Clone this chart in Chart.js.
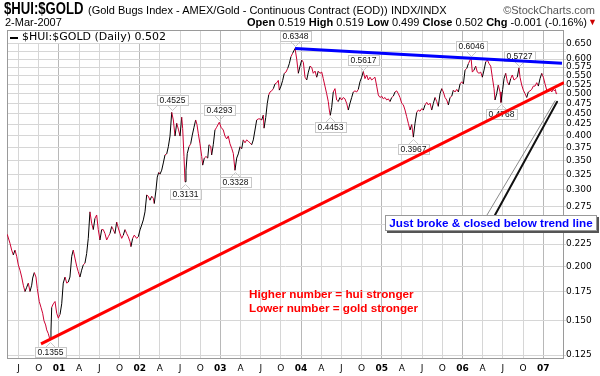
<!DOCTYPE html>
<html>
<head>
<meta charset="utf-8">
<script src="https://cdn.jsdelivr.net/npm/chart.js@4.4.1/dist/chart.umd.min.js"></script>
<style>
  body { margin: 0; background: #fff; }
  #wrap { position: relative; width: 600px; height: 376px; overflow: hidden; font-family: "Liberation Sans", Arial, sans-serif; color: #000; }
  #chart { position: absolute; left: 0; top: 0; }
  .t { position: absolute; white-space: nowrap; }
  .note { left: 249px; font: bold 11.7px "Liberation Sans", Arial, sans-serif; color: #ff0000; }
  #callout { left: 385px; top: 215px; width: 210px; height: 14px; background: #fff; border: 1px solid #999;
    box-shadow: 2px 2px 0 #555; font: bold 11.7px "Liberation Sans", Arial, sans-serif; color: #0000ff;
    line-height: 14px; text-align: center; }
  #sym { left: 4px; top: 0px; font: bold 16px "Liberation Sans", Arial, sans-serif; transform: scaleX(0.82); transform-origin: 0 0; }
</style>
</head>
<body>
<div id="wrap">
  <canvas id="chart" width="600" height="376"></canvas>
  <div class="t" id="sym">$HUI:$GOLD</div>
  <div class="t" style="left:88px;top:4px;font-size:11px;">(Gold Bugs Index - AMEX/Gold - Continuous Contract (EOD))</div>
  <div class="t" style="left:391px;top:4px;font-size:11px;">INDX/INDX</div>
  <div class="t" style="right:5px;top:4px;font-size:11px;color:#555;">&copy;StockCharts.com</div>
  <div class="t" style="left:5px;top:16px;font-size:11px;">2-Mar-2007</div>
  <div class="t" style="right:13px;top:16px;font-size:11px;"><b>Open</b> 0.519 <b>High</b> 0.519 <b>Low</b> 0.499 <b>Close</b> 0.502 <b>Chg</b> -0.001 (-0.16%)</div>
  <div class="t" style="right:3px;top:17px;font-size:9px;color:#cc0000;">&#9660;</div>
  <div class="t note" style="top:287px;">Higher number = hui stronger</div>
  <div class="t note" style="top:301px;">Lower number = gold stronger</div>
  <div class="t" id="callout">Just broke &amp; closed below trend line</div>
</div>
<script>
// $HUI:$GOLD daily ratio, dates as decimal years
const dates = [
  2000.359, 2000.393, 2000.414, 2000.434, 2000.455, 2000.476, 2000.496, 2000.517, 2000.538, 2000.558,
  2000.579, 2000.600, 2000.620, 2000.641, 2000.662, 2000.674, 2000.694, 2000.715, 2000.731, 2000.756,
  2000.777, 2000.798, 2000.814, 2000.835, 2000.848, 2000.868, 2000.889, 2000.901, 2000.910, 2000.930,
  2000.951, 2000.972, 2000.992, 2001.013, 2001.034, 2001.053, 2001.075, 2001.096, 2001.115, 2001.136,
  2001.158, 2001.177, 2001.198, 2001.220, 2001.239, 2001.260, 2001.281, 2001.301, 2001.322, 2001.343,
  2001.363, 2001.384, 2001.405, 2001.425, 2001.446, 2001.467, 2001.487, 2001.508, 2001.529, 2001.549,
  2001.570, 2001.591, 2001.611, 2001.632, 2001.653, 2001.673, 2001.694, 2001.715, 2001.735, 2001.756,
  2001.777, 2001.797, 2001.818, 2001.839, 2001.859, 2001.880, 2001.892, 2001.913, 2001.933, 2001.963,
  2001.983, 2002.004, 2002.025, 2002.045, 2002.066, 2002.087, 2002.107, 2002.128, 2002.149, 2002.169,
  2002.181, 2002.202, 2002.218, 2002.236, 2002.252, 2002.273, 2002.293,
  2002.314, 2002.335, 2002.355, 2002.376, 2002.397, 2002.417, 2002.438, 2002.459, 2002.479, 2002.500,
  2002.521, 2002.533, 2002.549, 2002.562, 2002.574, 2002.590, 2002.611, 2002.632, 2002.652, 2002.673,
  2002.694, 2002.710, 2002.726, 2002.747, 2002.769, 2002.781, 2002.801, 2002.822, 2002.843, 2002.859,
  2002.880, 2002.892, 2002.912, 2002.933, 2002.954, 2002.974, 2002.987, 2003.008, 2003.036, 2003.057,
  2003.078, 2003.098, 2003.119, 2003.140, 2003.160, 2003.181, 2003.202, 2003.222, 2003.243, 2003.264,
  2003.284, 2003.305, 2003.326, 2003.346, 2003.367, 2003.388, 2003.408, 2003.429, 2003.450, 2003.470,
  2003.491, 2003.512, 2003.532, 2003.541, 2003.562, 2003.581, 2003.599, 2003.615, 2003.636, 2003.656,
  2003.677, 2003.698, 2003.718, 2003.730, 2003.751, 2003.772, 2003.792, 2003.813, 2003.834, 2003.854,
  2003.875, 2003.896, 2003.925,
  2003.946, 2003.966, 2003.987, 2004.008, 2004.028, 2004.049, 2004.070, 2004.090, 2004.111, 2004.132,
  2004.151, 2004.173, 2004.194, 2004.213, 2004.234, 2004.256, 2004.275, 2004.296, 2004.317, 2004.337,
  2004.350, 2004.362, 2004.379, 2004.399, 2004.420, 2004.441, 2004.461, 2004.482, 2004.503, 2004.523,
  2004.544, 2004.565, 2004.585, 2004.606, 2004.627, 2004.647, 2004.668, 2004.689, 2004.709, 2004.730,
  2004.751, 2004.771, 2004.792, 2004.813, 2004.833, 2004.854, 2004.875, 2004.895, 2004.916, 2004.937,
  2004.957, 2004.978, 2004.999, 2005.019, 2005.040, 2005.061, 2005.081, 2005.102, 2005.123, 2005.143,
  2005.164, 2005.185, 2005.205, 2005.226, 2005.247, 2005.267, 2005.288, 2005.309, 2005.329, 2005.350,
  2005.371, 2005.391, 2005.412, 2005.433, 2005.453, 2005.474, 2005.495, 2005.515, 2005.536, 2005.557,
  2005.577, 2005.598, 2005.619, 2005.639, 2005.660, 2005.681, 2005.700, 2005.722, 2005.743, 2005.763,
  2005.784, 2005.805, 2005.825, 2005.846, 2005.867, 2005.887, 2005.908, 2005.929, 2005.949, 2005.970,
  2005.991, 2006.011, 2006.032, 2006.053, 2006.073, 2006.094, 2006.106, 2006.122, 2006.143, 2006.164,
  2006.184, 2006.205, 2006.226, 2006.246, 2006.267, 2006.288, 2006.308, 2006.329, 2006.350, 2006.370,
  2006.391, 2006.403, 2006.424, 2006.444, 2006.465, 2006.477, 2006.498, 2006.515, 2006.536, 2006.556,
  2006.577, 2006.598, 2006.617, 2006.639, 2006.660, 2006.679, 2006.700, 2006.713, 2006.734, 2006.754,
  2006.775, 2006.796, 2006.816, 2006.837, 2006.858, 2006.878, 2006.899, 2006.920, 2006.940, 2006.961,
  2006.982, 2007.002, 2007.023, 2007.044, 2007.064, 2007.085, 2007.106, 2007.126, 2007.140, 2007.152,
  2007.160, 2007.167
];
const ratio = [
  0.237, 0.226, 0.218, 0.2125, 0.218, 0.211, 0.2015, 0.196, 0.189, 0.181,
  0.175, 0.179, 0.183, 0.175, 0.181, 0.188, 0.1935, 0.189, 0.178, 0.166,
  0.161, 0.156, 0.150, 0.1466, 0.1428, 0.140, 0.1355, 0.142, 0.161, 0.164,
  0.166, 0.156, 0.152, 0.155, 0.164, 0.183, 0.189, 0.183, 0.184, 0.189,
  0.211, 0.218, 0.209, 0.200, 0.1945, 0.189, 0.196, 0.2015, 0.2035, 0.214,
  0.232, 0.267, 0.2515, 0.243, 0.258, 0.2626, 0.243, 0.230, 0.243, 0.243,
  0.238, 0.230, 0.234, 0.238, 0.247, 0.243, 0.238, 0.253, 0.245, 0.238,
  0.232, 0.236, 0.243, 0.238, 0.234, 0.228, 0.222, 0.232, 0.236, 0.232,
  0.234, 0.2426, 0.249, 0.2558, 0.267, 0.292, 0.290, 0.284, 0.290, 0.287,
  0.279, 0.2998, 0.321, 0.329, 0.326, 0.333, 0.346,
  0.361, 0.363, 0.377, 0.399, 0.4525, 0.4345, 0.399, 0.427, 0.414, 0.399,
  0.441, 0.415, 0.358, 0.3131, 0.333, 0.364, 0.377, 0.383, 0.401, 0.418,
  0.4345, 0.424, 0.405, 0.383, 0.358, 0.342, 0.355, 0.358, 0.355, 0.381,
  0.378, 0.361, 0.381, 0.412, 0.418, 0.425, 0.4293, 0.418, 0.412, 0.399,
  0.393, 0.399, 0.383, 0.374, 0.364, 0.3328, 0.355, 0.363, 0.377, 0.373,
  0.391, 0.385, 0.391, 0.388, 0.385, 0.381, 0.391, 0.412, 0.4345, 0.437,
  0.437, 0.4345, 0.446, 0.416, 0.440, 0.474, 0.496, 0.504, 0.507, 0.513,
  0.526, 0.529, 0.536, 0.509, 0.520, 0.536, 0.5565, 0.560, 0.571, 0.5855,
  0.608, 0.619, 0.6348,
  0.600, 0.5565, 0.578, 0.597, 0.590, 0.545, 0.537, 0.560, 0.578, 0.574,
  0.5565, 0.563, 0.545, 0.563, 0.5565, 0.560, 0.541, 0.520, 0.4995, 0.479,
  0.458, 0.4453, 0.464, 0.504, 0.513, 0.483, 0.479, 0.4895, 0.483, 0.4895,
  0.486, 0.4745, 0.458, 0.4745, 0.4895, 0.504, 0.507, 0.504, 0.511, 0.532,
  0.545, 0.5617, 0.541, 0.5515, 0.537, 0.545, 0.537, 0.541, 0.545, 0.520,
  0.496, 0.4895, 0.493, 0.486, 0.4895, 0.483, 0.486, 0.479, 0.4895, 0.493,
  0.504, 0.507, 0.4995, 0.4895, 0.4745, 0.471, 0.458, 0.442, 0.427, 0.412,
  0.424, 0.3967, 0.427, 0.4525, 0.458, 0.455, 0.4615, 0.458, 0.4705, 0.477,
  0.4705, 0.475, 0.458, 0.4745, 0.4895, 0.479, 0.467, 0.4995, 0.513, 0.504,
  0.4895, 0.483, 0.4705, 0.4895, 0.493, 0.509, 0.504, 0.511, 0.504, 0.526,
  0.532, 0.526, 0.566, 0.571, 0.5855, 0.597, 0.6046, 0.560, 0.566, 0.578,
  0.560, 0.5565, 0.560, 0.545, 0.566, 0.591, 0.597, 0.586, 0.578, 0.545,
  0.513, 0.483, 0.4995, 0.523, 0.504, 0.4768, 0.511, 0.541, 0.5565, 0.532,
  0.523, 0.541, 0.5515, 0.537, 0.541, 0.545, 0.5727, 0.545, 0.523, 0.509,
  0.4995, 0.4895, 0.504, 0.507, 0.511, 0.520, 0.520, 0.5295, 0.520, 0.541,
  0.5565, 0.545, 0.526, 0.509, 0.504, 0.511, 0.504, 0.511, 0.507, 0.511,
  0.4995, 0.502
];

// trend lines
const supportDates = [2000.777, 2007.258];
const supportValues = [0.1326, 0.530];
const resistDates = [2003.925, 2007.233];
const resistValues = [0.6348, 0.587];

// labelled highs and lows
const markDates = [2003.925, 2004.771, 2006.106, 2006.700, 2002.397, 2002.987, 2000.889, 2002.562, 2003.181, 2004.362, 2005.391, 2006.477];
const markValues = [0.6348, 0.5617, 0.6046, 0.5727, 0.4525, 0.4293, 0.1355, 0.3131, 0.3328, 0.4453, 0.3967, 0.4768];
const markAbove = [true, true, true, true, true, true, false, false, false, false, false, false];

// arrow from the callout to the last close
const arrowDates = [2006.304, 2006.403, 2007.160];
const arrowValues = [0.2626, 0.2626, 0.481];

// axes
const yTicks = [0.125, 0.150, 0.175, 0.200, 0.225, 0.250, 0.275, 0.300, 0.325, 0.350, 0.375,
  0.400, 0.425, 0.450, 0.475, 0.500, 0.525, 0.550, 0.575, 0.600, 0.625, 0.650];
const yTickLabels = ['0.125', '0.150', '0.175', '0.200', '0.225', '0.250', '0.275', '0.300', '0.325', '0.350', '0.375',
  '0.400', '0.425', '0.450', '0.475', '0.500', '0.525', '0.550', '0.575', '0.600', '', '0.650'];
const qTicks = [2000.5, 2000.75, 2001, 2001.25, 2001.5, 2001.75, 2002, 2002.25, 2002.5, 2002.75,
  2003, 2003.25, 2003.5, 2003.75, 2004, 2004.25, 2004.5, 2004.75, 2005, 2005.25, 2005.5, 2005.75,
  2006, 2006.25, 2006.5, 2006.75, 2007];
const qLabels = ['J', 'O', '01', 'A', 'J', 'O', '02', 'A', 'J', 'O', '03', 'A', 'J', 'O', '04', 'A', 'J', 'O',
  '05', 'A', 'J', 'O', '06', 'A', 'J', 'O', '07'];

const axisFont = 'DejaVu Sans';

const frame = {
  id: 'frame',
  beforeDatasetsDraw(chart) {
    const { ctx, chartArea: a, scales } = chart;
    ctx.save();
    ctx.strokeStyle = '#9a9a9a';
    ctx.lineWidth = 1;
    ctx.strokeRect(a.left + 0.5, a.top + 0.5, a.width - 1, a.height - 1);

    // legend strip
    ctx.fillStyle = '#fff';
    ctx.fillRect(a.left + 1, a.top + 1, 166, 12);
    ctx.fillStyle = '#000';
    ctx.fillRect(a.left + 3, a.top + 7, 8, 2);
    ctx.font = '11px "DejaVu Sans"';
    ctx.textBaseline = 'middle';
    ctx.fillText('$HUI:$GOLD (Daily) 0.502', a.left + 15, a.top + 7.5);

    // high / low labels
    ctx.font = '8.5px "Liberation Sans", Arial';
    ctx.textAlign = 'center';
    markDates.forEach((d, i) => {
      const px = Math.round(scales.x.getPixelForValue(d));
      const py = scales.y.getPixelForValue(markValues[i]);
      const txt = markValues[i].toFixed(4);
      const w = Math.round(ctx.measureText(txt).width) + 5;
      const top = markAbove[i] ? Math.round(py) - 17 : Math.round(py) + 7;
      const tipY = markAbove[i] ? top + 10 : top;
      ctx.strokeStyle = '#c8c8c8';
      ctx.beginPath();
      const dy = markAbove[i] ? 5 : -5;
      ctx.moveTo(px - 4.5, tipY + 0.5);
      ctx.lineTo(px + 0.5, tipY + dy + 0.5);
      ctx.lineTo(px + 5.5, tipY + 0.5);
      ctx.stroke();
      ctx.fillStyle = '#fff';
      ctx.fillRect(px - w / 2, top, w, 10);
      ctx.strokeRect(Math.round(px - w / 2) + 0.5, top + 0.5, w, 10);
      ctx.fillStyle = '#111';
      ctx.fillText(txt, px + 0.5, top + 5.5);
    });
    ctx.restore();
  },
  afterDatasetsDraw(chart) {
    const { ctx, scales } = chart;
    const p = arrowDates.map((d, i) => [scales.x.getPixelForValue(d), scales.y.getPixelForValue(arrowValues[i])]);
    ctx.save();
    ctx.lineCap = 'round';
    ctx.strokeStyle = '#8a8a8a';
    ctx.lineWidth = 1;
    ctx.beginPath();
    ctx.moveTo(p[0][0], p[0][1]);
    ctx.lineTo(p[2][0] - 1, p[2][1]);
    ctx.stroke();
    ctx.strokeStyle = '#111';
    ctx.lineWidth = 2;
    ctx.beginPath();
    ctx.moveTo(p[1][0], p[1][1]);
    ctx.lineTo(p[2][0] + 1, p[2][1] + 1);
    ctx.stroke();
    ctx.restore();
  }
};

new Chart(document.getElementById('chart'), {
  type: 'line',
  data: {
    datasets: [
      {
        label: '$HUI:$GOLD',
        data: dates.map((d, i) => ({ x: d, y: ratio[i] })),
        borderWidth: 1,
        pointRadius: 0,
        tension: 0,
        order: 2,
        segment: {
          // strong up moves in black, the rest in crimson
          borderColor: c => c.p1.parsed.y > c.p0.parsed.y * 1.02 ? '#000000' : '#cc0033'
        }
      },
      {
        label: 'support',
        data: supportDates.map((d, i) => ({ x: d, y: supportValues[i] })),
        borderColor: '#ff0000',
        borderWidth: 3,
        pointRadius: 0,
        order: 1
      },
      {
        label: 'resistance',
        data: resistDates.map((d, i) => ({ x: d, y: resistValues[i] })),
        borderColor: '#0000ff',
        borderWidth: 3,
        pointRadius: 0,
        order: 1
      }
    ]
  },
  options: {
    responsive: false,
    animation: false,
    devicePixelRatio: 1,
    layout: { padding: { left: 7, top: 30, right: 0, bottom: 0 } },
    plugins: { legend: { display: false }, tooltip: { enabled: false } },
    scales: {
      x: {
        type: 'linear',
        min: 2000.356,
        max: 2007.258,
        afterBuildTicks: axis => { axis.ticks = qTicks.map(v => ({ value: v })); },
        afterFit: axis => { axis.height = 17; },
        grid: {
          color: c => (c.tick && Number.isInteger(c.tick.value)) ? '#b8b8b8' : '#d6d6d6',
          drawTicks: false
        },
        border: { display: false },
        ticks: {
          autoSkip: false,
          maxRotation: 0,
          padding: 4,
          color: '#000',
          font: c => ({ family: axisFont, size: 9, weight: (c.tick && Number.isInteger(c.tick.value)) ? 'bold' : 'normal' }),
          callback: (v, i) => qLabels[i]
        }
      },
      y: {
        type: 'logarithmic',
        position: 'right',
        min: 0.1224,
        max: 0.700,
        afterBuildTicks: axis => { axis.ticks = yTicks.map(v => ({ value: v })); },
        afterFit: axis => { axis.width = 36; },
        grid: { color: '#d6d6d6', tickLength: 2 },
        border: { display: false },
        ticks: {
          autoSkip: false,
          padding: 0,
          color: '#000',
          font: { family: axisFont, size: 9 },
          callback: (v, i) => yTickLabels[i]
        }
      }
    }
  },
  plugins: [frame]
});
</script>
</body>
</html>
